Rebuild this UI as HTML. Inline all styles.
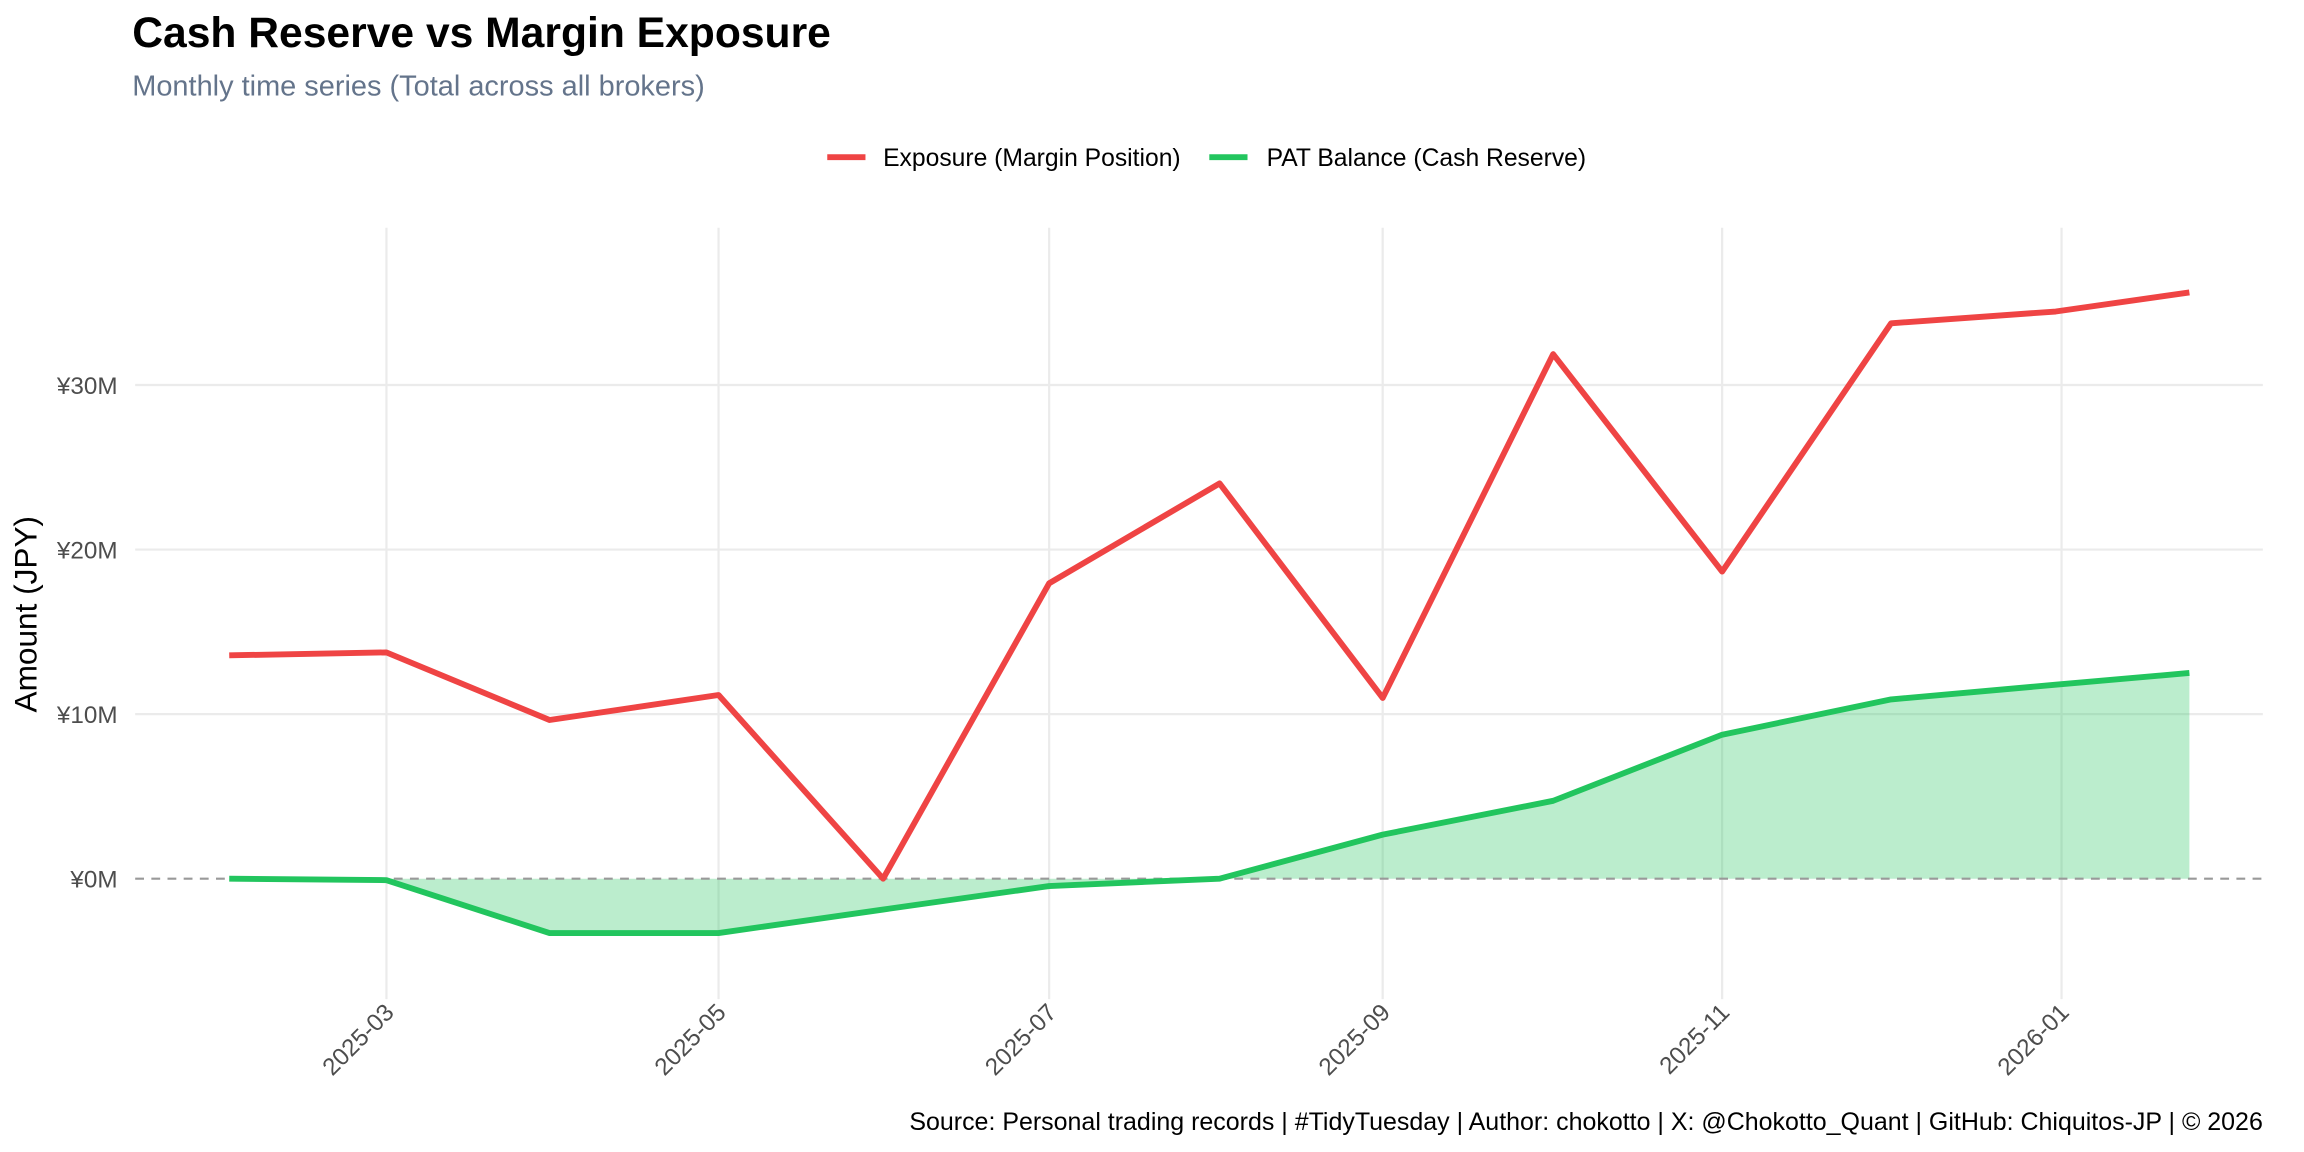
<!DOCTYPE html>
<html><head><meta charset="utf-8"><style>
html,body{margin:0;padding:0;background:#fff;}
svg{display:block;font-family:"Liberation Sans",sans-serif;}
</style></head><body>
<svg width="2304" height="1152" viewBox="0 0 1568 784" xmlns="http://www.w3.org/2000/svg">
<rect width="1568" height="784" fill="#fff"/>
<text x="90" y="32" font-size="29" font-weight="bold" fill="#000">Cash Reserve vs Margin Exposure</text>
<text x="90" y="65" font-size="19.7" fill="#64748b">Monthly time series (Total across all brokers)</text>
<!-- legend -->
<line x1="563" y1="107" x2="589" y2="107" stroke="#ef4444" stroke-width="4"/>
<text x="601" y="113" font-size="16.8" fill="#000">Exposure (Margin Position)</text>
<line x1="823" y1="107" x2="849" y2="107" stroke="#22c55e" stroke-width="4"/>
<text x="862" y="113" font-size="16.8" fill="#000">PAT Balance (Cash Reserve)</text>
<!-- grid -->
<g stroke="#ebebeb" stroke-width="1.5">
<line x1="92" y1="262" x2="1540" y2="262"/>
<line x1="92" y1="374" x2="1540" y2="374"/>
<line x1="92" y1="486" x2="1540" y2="486"/>
<line x1="263" y1="155" x2="263" y2="680"/>
<line x1="489" y1="155" x2="489" y2="680"/>
<line x1="714" y1="155" x2="714" y2="680"/>
<line x1="941" y1="155" x2="941" y2="680"/>
<line x1="1172" y1="155" x2="1172" y2="680"/>
<line x1="1403" y1="155" x2="1403" y2="680"/>
</g>
<!-- area -->
<polygon fill="#22c55e" fill-opacity="0.31" points="156,598 263,599 374,635 489,635 601,619 714,603 830,598 941,568 1057,545 1172,500 1287,476 1399,466 1490,458 1490,598 156,598"/>
<line x1="92" y1="598" x2="1540" y2="598" stroke="#999" stroke-width="1.5" stroke-dasharray="6,5"/>
<polyline fill="none" stroke="#ef4444" stroke-width="4" stroke-linejoin="round" points="156,446 263,444 374,490 489,473 601,598 714,397 830,329 941,475 1057,241 1172,389 1287,220 1399,212 1490,199"/>
<polyline fill="none" stroke="#22c55e" stroke-width="4" stroke-linejoin="round" points="156,598 263,599 374,635 489,635 601,619 714,603 830,598 941,568 1057,545 1172,500 1287,476 1399,466 1490,458"/>
<!-- y ticks -->
<g font-size="16.5" fill="#4d4d4d" text-anchor="end">
<text x="80" y="268">¥30M</text>
<text x="80" y="380">¥20M</text>
<text x="80" y="492">¥10M</text>
<text x="80" y="604">¥0M</text>
</g>
<text transform="translate(25,418) rotate(-90)" font-size="21.5" text-anchor="middle" fill="#000">Amount (JPY)</text>
<!-- x ticks -->
<g font-size="16.5" fill="#4d4d4d" text-anchor="end">
<text transform="translate(269,690) rotate(-45)">2025-03</text>
<text transform="translate(495,690) rotate(-45)">2025-05</text>
<text transform="translate(720,690) rotate(-45)">2025-07</text>
<text transform="translate(947,690) rotate(-45)">2025-09</text>
<text transform="translate(1178,690) rotate(-45)">2025-11</text>
<text transform="translate(1409,690) rotate(-45)">2026-01</text>
</g>
<text x="1540" y="769" font-size="17" text-anchor="end" fill="#000">Source: Personal trading records | #TidyTuesday | Author: chokotto | X: @Chokotto_Quant | GitHub: Chiquitos-JP | © 2026</text>
</svg>
</body></html>
